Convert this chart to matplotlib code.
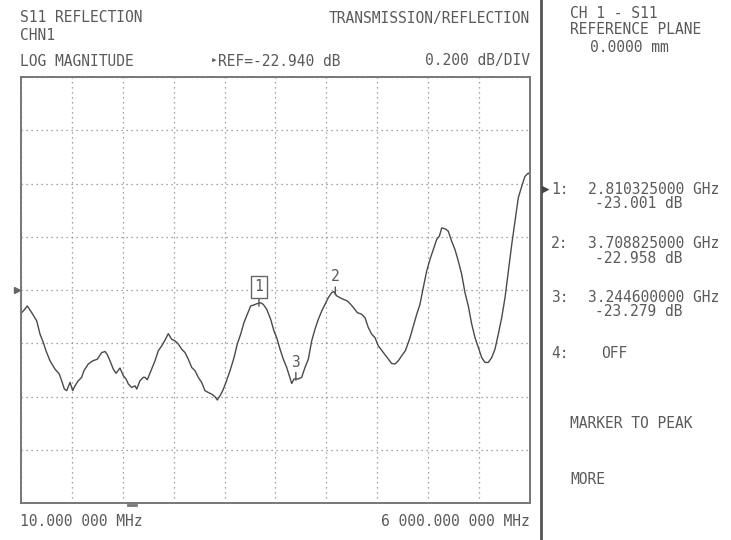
import numpy as np
import matplotlib
matplotlib.use("Agg")
from matplotlib import pyplot as plt

# trace (GHz, dB)
freq_ghz = [0.018, 0.045, 0.084, 0.136, 0.195, 0.234, 0.272, 0.304, 0.351, 0.410,
            0.461, 0.489, 0.520, 0.548, 0.587, 0.618, 0.645, 0.684, 0.724, 0.751,
            0.802, 0.854, 0.908, 0.960, 0.999, 1.026, 1.057, 1.096, 1.128, 1.175,
            1.214, 1.246, 1.273, 1.313, 1.352, 1.372, 1.410, 1.449, 1.469, 1.496,
            1.548, 1.587, 1.626, 1.666, 1.705, 1.743, 1.783, 1.822, 1.861, 1.901,
            1.940, 1.979, 2.019, 2.058, 2.096, 2.136, 2.175, 2.214, 2.254, 2.293,
            2.320, 2.352, 2.384, 2.422, 2.470, 2.517, 2.555, 2.595, 2.634, 2.673,
            2.713, 2.752, 2.791, 2.831, 2.861, 2.901, 2.948, 2.987, 3.019, 3.058,
            3.097, 3.137, 3.167, 3.196, 3.223, 3.273, 3.313, 3.352, 3.391, 3.431,
            3.470, 3.509, 3.549, 3.588, 3.626, 3.666, 3.693, 3.725, 3.764, 3.803,
            3.850, 3.890, 3.929, 3.968, 4.019, 4.058, 4.097, 4.137, 4.176, 4.215,
            4.274, 4.332, 4.372, 4.411, 4.450, 4.490, 4.535, 4.588, 4.627, 4.667,
            4.705, 4.744, 4.784, 4.823, 4.862, 4.902, 4.933, 4.961, 5.000, 5.038,
            5.078, 5.117, 5.156, 5.196, 5.235, 5.274, 5.314, 5.353, 5.392, 5.432,
            5.470, 5.509, 5.549, 5.588, 5.627, 5.667, 5.706, 5.745, 5.785, 5.823,
            5.862, 5.902, 5.941, 5.980, 6.000]
s11_db = [-23.025, -23.016, -23.000, -23.025, -23.056, -23.106, -23.137, -23.168, -23.206, -23.237,
          -23.256, -23.281, -23.312, -23.318, -23.287, -23.318, -23.300, -23.281, -23.268, -23.243,
          -23.218, -23.206, -23.200, -23.175, -23.171, -23.183, -23.206, -23.237, -23.253, -23.233,
          -23.262, -23.274, -23.293, -23.306, -23.300, -23.312, -23.281, -23.268, -23.268, -23.277,
          -23.237, -23.206, -23.168, -23.150, -23.128, -23.104, -23.125, -23.131, -23.143, -23.162,
          -23.175, -23.200, -23.231, -23.243, -23.268, -23.287, -23.318, -23.325, -23.331, -23.341,
          -23.353, -23.337, -23.318, -23.287, -23.243, -23.194, -23.143, -23.106, -23.062, -23.031,
          -23.000, -22.996, -22.991, -22.988, -22.994, -23.012, -23.050, -23.094, -23.119, -23.162,
          -23.200, -23.231, -23.262, -23.291, -23.274, -23.274, -23.268, -23.231, -23.200, -23.131,
          -23.087, -23.050, -23.019, -22.994, -22.969, -22.950, -22.946, -22.962, -22.969, -22.975,
          -22.981, -22.994, -23.009, -23.025, -23.031, -23.044, -23.081, -23.106, -23.119, -23.150,
          -23.175, -23.200, -23.216, -23.218, -23.206, -23.187, -23.167, -23.119, -23.075, -23.031,
          -22.994, -22.931, -22.869, -22.825, -22.788, -22.750, -22.738, -22.707, -22.710, -22.719,
          -22.757, -22.788, -22.831, -22.881, -22.950, -23.000, -23.068, -23.119, -23.156, -23.194,
          -23.212, -23.212, -23.194, -23.162, -23.106, -23.044, -22.969, -22.869, -22.769, -22.682,
          -22.594, -22.551, -22.513, -22.501, -22.507]

marker_ids = ["1", "2", "3"]
marker_ghz = [2.810325, 3.708825, 3.2446]
marker_db = [-23.001, -22.958, -23.279]
marker_labels = ["2.810325000 GHz", "3.708825000 GHz", "3.244600000 GHz"]
marker_vals = ["-23.001 dB", "-22.958 dB", "-23.279 dB"]

ref_db = -22.940
db_per_div = 0.200
start_ghz, stop_ghz = 0.010, 6.000

W, H = 731, 540
fg = '#5a5a5a'
mono = 'DejaVu Sans Mono'
fs = 10.5

fig = plt.figure(figsize=(W / 100, H / 100), dpi=100)
fig.patch.set_facecolor('white')
ax = fig.add_axes([21 / W, 37 / H, 509 / W, 426 / H])

ax.plot(freq_ghz, s11_db, color='#4a4a4a', lw=1.0)
ax.set_xlim(start_ghz, stop_ghz)
ax.set_ylim(ref_db - 4 * db_per_div, ref_db + 4 * db_per_div)
ax.set_xticks(np.linspace(start_ghz, stop_ghz, 11))
ax.set_yticks(ref_db + db_per_div * np.arange(-4, 5))
ax.tick_params(length=0, labelbottom=False, labelleft=False)
ax.grid(True, color='#888888', lw=0.9, linestyle=(0, (1, 3)))
for s in ax.spines.values():
    s.set_color('#777777')
    s.set_linewidth(1.4)

# markers
for mid, f, d in zip(marker_ids, marker_ghz, marker_db):
    if mid == "1":
        ax.annotate(mid, (f, d), xytext=(0, 14), textcoords='offset points',
                    ha='center', va='center', fontsize=fs, family=mono, color=fg,
                    bbox=dict(boxstyle='square,pad=0.25', fc='white', ec='#666666', lw=1.0),
                    arrowprops=dict(arrowstyle='-', color='#555555', lw=1.0, shrinkA=0, shrinkB=0))
    else:
        ax.annotate(mid, (f, d), xytext=(0, 13), textcoords='offset points',
                    ha='center', va='center', fontsize=fs, family=mono, color=fg,
                    arrowprops=dict(arrowstyle='-', color='#555555', lw=1.0, shrinkA=6, shrinkB=0))

# ref arrow at left edge
ax.plot([-0.008], [ref_db], marker='>', color='#666666', ms=5, clip_on=False,
        transform=ax.get_yaxis_transform())


def t(x, y, s, **kw):
    kw.setdefault('fontsize', fs)
    kw.setdefault('family', mono)
    kw.setdefault('color', fg)
    kw.setdefault('va', 'center')
    fig.text(x / W, 1 - y / H, s, **kw)


t(20, 18, "S11 REFLECTION")
t(530, 18, "TRANSMISSION/REFLECTION", ha='right')
t(20, 36, "CHN1")
t(20, 61, "LOG MAGNITUDE")
t(211, 61, "\u25b8", fontsize=8)
t(218, 61, "REF=-22.940 dB")
t(530, 61, "0.200 dB/DIV", ha='right')
t(20, 521, "10.000 000 MHz")
t(530, 521, "6 000.000 000 MHz", ha='right')

# right panel
fig.add_artist(plt.Line2D([541 / W, 541 / W], [0, 1], color='#555555', lw=2))
t(570, 13, "CH 1 - S11")
t(570, 30, "REFERENCE PLANE")
t(590, 47, "0.0000 mm")
rows_y = [189, 244, 298]
for i, y in enumerate(rows_y):
    t(551, y, marker_ids[i] + ":")
    t(588, y, marker_labels[i])
    t(595, y + 14, marker_vals[i])
t(542, rows_y[0], "\u25b6", fontsize=9, color='#444444')
t(551, 353, "4:")
t(601, 353, "OFF")
t(570, 423, "MARKER TO PEAK")
t(570, 479, "MORE")

# small dash under the bottom edge
fig.add_artist(plt.Line2D([128 / W, 136 / W], [1 - 505 / H, 1 - 505 / H], color='#777777', lw=2))

fig.savefig("out.png", dpi=100, facecolor='white')
